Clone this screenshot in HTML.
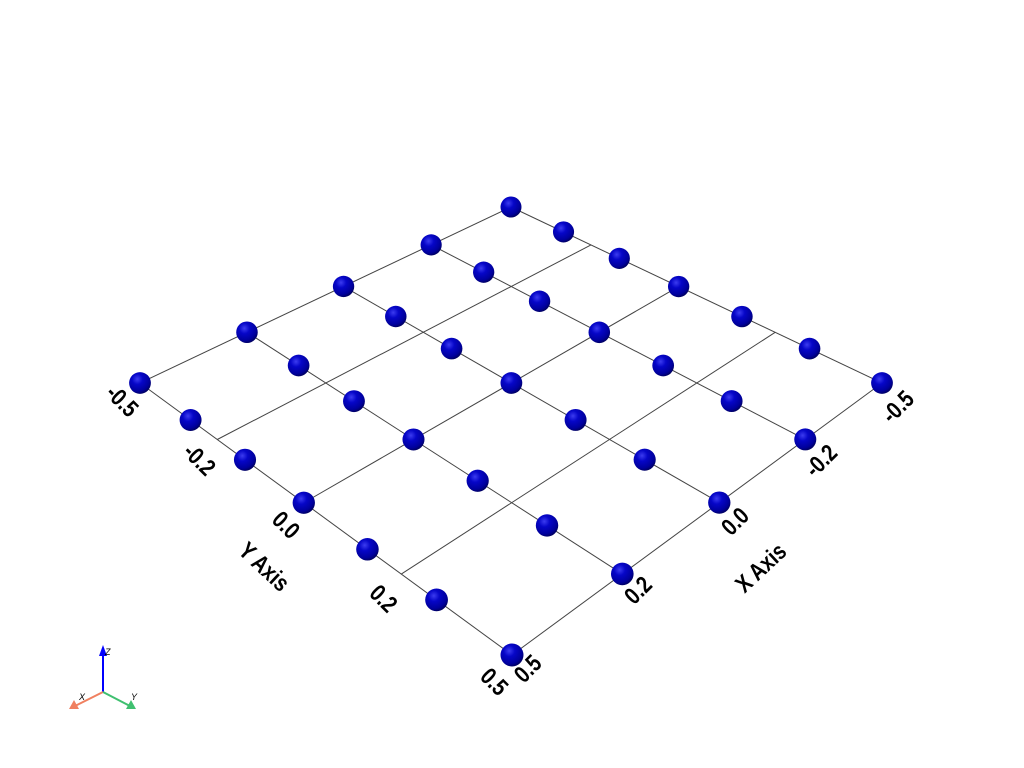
<!DOCTYPE html>
<html><head><meta charset="utf-8"><style>
html,body{margin:0;padding:0;background:#fff;}
svg{display:block;}
text{font-family:"Liberation Sans",sans-serif;}
</style></head><body>
<svg id="chart" width="1024" height="768" viewBox="0 0 1024 768" xmlns="http://www.w3.org/2000/svg">
<defs>
<radialGradient id="sph" cx="0.38" cy="0.32" r="0.7">
<stop offset="0" stop-color="#3c3cf0"/>
<stop offset="0.35" stop-color="#0606c8"/>
<stop offset="0.8" stop-color="#00009c"/>
<stop offset="1" stop-color="#000060"/>
</radialGradient>
</defs>
<g id="grid"></g>
<g id="pts"></g>
<g id="labels"></g>
<g>
<line x1="103" y1="692" x2="103" y2="652" stroke="#0000ff" stroke-width="2"/>
<polygon points="103,645 99,656 107,656" fill="#0000ff"/>
<line x1="103" y1="692" x2="75" y2="706" stroke="#f08060" stroke-width="2"/>
<polygon points="69,709 74,700 79,709" fill="#f08060"/>
<line x1="103" y1="692" x2="130" y2="706" stroke="#40c070" stroke-width="2"/>
<polygon points="136,709 126,709 131,700" fill="#40c070"/>
<text x="105" y="655" font-size="9" font-style="italic">Z</text>
<text x="79" y="700" font-size="9" font-style="italic">X</text>
<text x="131" y="700" font-size="9" font-style="italic">Y</text>
</g>
</svg>
<script>
const xValues=[-0.5,-0.25,0,0.25,0.5];
const yValues=[-0.5,-0.3333,-0.1667,0,0.1667,0.3333,0.5];
const xTicks=[-0.5,-0.25,0,0.25,0.5];
const yTicks=[-0.5,-0.25,0,0.25,0.5];
const xTickLabels=["-0.5","-0.2","0.0","0.2","0.5"];
const yTickLabels=["-0.5","-0.2","0.0","0.2","0.5"];

const src=[[-0.5,-0.5],[0.5,-0.5],[0.5,0.5],[-0.5,0.5]];
const dst=[[511,207],[140,383],[512,655],[882,383]];
function solve(A,b){const n=b.length;for(let i=0;i<n;i++){let p=i;for(let r=i+1;r<n;r++)if(Math.abs(A[r][i])>Math.abs(A[p][i]))p=r;[A[i],A[p]]=[A[p],A[i]];[b[i],b[p]]=[b[p],b[i]];for(let r=0;r<n;r++){if(r===i)continue;const f=A[r][i]/A[i][i];for(let c=i;c<n;c++)A[r][c]-=f*A[i][c];b[r]-=f*b[i];}}return b.map((v,i)=>v/A[i][i]);}
const A=[],B=[];
for(let i=0;i<4;i++){const [x,y]=src[i],[u,v]=dst[i];
A.push([x,y,1,0,0,0,-u*x,-u*y]);B.push(u);
A.push([0,0,0,x,y,1,-v*x,-v*y]);B.push(v);}
const h=solve(A,B);
function proj(x,y){const w=h[6]*x+h[7]*y+1;return [(h[0]*x+h[1]*y+h[2])/w,(h[3]*x+h[4]*y+h[5])/w,w];}
const NS="http://www.w3.org/2000/svg";
const grid=document.getElementById('grid'),pts=document.getElementById('pts'),lab=document.getElementById('labels');
function line(p,q,name){const l=document.createElementNS(NS,'line');
l.setAttribute('x1',p[0]);l.setAttribute('y1',p[1]);l.setAttribute('x2',q[0]);l.setAttribute('y2',q[1]);
l.setAttribute('stroke','#444');l.setAttribute('stroke-width','1');


grid.appendChild(l);}
xTicks.forEach(x=>line(proj(x,-0.5),proj(x,0.5),'x-grid-line'));
yTicks.forEach(y=>line(proj(-0.5,y),proj(0.5,y),'y-grid-line'));
const list=[];
xValues.forEach(x=>yValues.forEach(y=>list.push(proj(x,y))));
list.sort((a,b)=>a[1]-b[1]);
list.forEach(p=>{const c=document.createElementNS(NS,'circle');
c.setAttribute('cx',p[0]);c.setAttribute('cy',p[1]);c.setAttribute('r',(10.5+(p[1]-207)/448).toFixed(2));
c.setAttribute('fill','url(#sph)');


pts.appendChild(c);});
function txt(s,x,y,rot,name,size){const t=document.createElementNS(NS,'text');
t.textContent=s;t.setAttribute('x',0);t.setAttribute('y',0);
t.setAttribute('font-size',size);t.setAttribute('font-weight','bold');t.setAttribute('text-anchor','middle');t.setAttribute('dominant-baseline','middle');
t.setAttribute('transform','translate('+x+','+y+') rotate('+rot+') scale(0.82,1)');


lab.appendChild(t);}
yTicks.forEach((y,i)=>{const p=proj(0.5,y);txt(yTickLabels[i],p[0]-19,p[1]+19+9*(y+0.5),45,'y-tick-label',24);});
xTicks.forEach((x,i)=>{const p=proj(x,0.5);txt(xTickLabels[i],p[0]+17,p[1]+15+10*(0.5-x),-45,'x-tick-label',24);});
txt('Y Axis',263,568,43,'y-axis-title',24);
txt('X Axis',762,569,-43,'x-axis-title',24);
</script>
</body></html>
